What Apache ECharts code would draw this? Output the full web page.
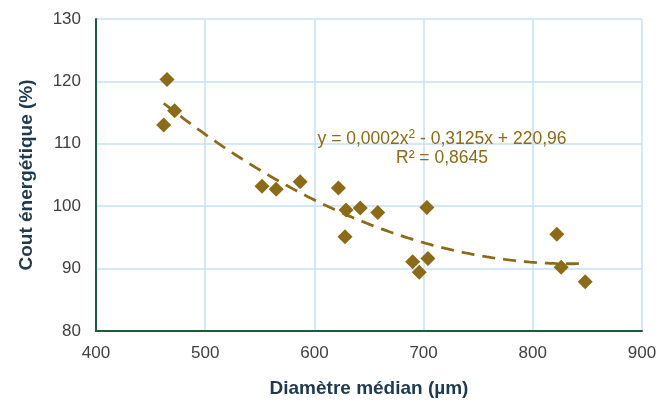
<!DOCTYPE html>
<html>
<head>
<meta charset="utf-8">
<script src="https://cdn.jsdelivr.net/npm/echarts@6/dist/echarts.min.js"></script>
<style>html,body{margin:0;padding:0;background:#fff;}#c{width:672px;height:402px;}</style>
</head>
<body>
<div id="c"></div>
<script>
// Data
const diametre = [462, 465, 472, 552, 565, 587, 622, 628, 629, 642, 658, 690, 696, 703, 704, 822, 826, 848];
const cout     = [113.0, 120.3, 115.3, 103.2, 102.7, 103.9, 102.9, 95.1, 99.4, 99.7, 99.0, 91.1, 89.4, 99.8, 91.6, 95.5, 90.2, 87.9];
const xTicks = [400, 500, 600, 700, 800, 900];
const yTicks = [80, 90, 100, 110, 120, 130];
const eqLine1 = ['y = 0,0002x', '2', ' - 0,3125x + 220,96'];
const eqLine2 = 'R² = 0,8645';

const points = diametre.map((d, i) => [d, cout[i]]);

// Polynomial (order 2) least-squares trendline, like the spreadsheet trendline
function polyFit2(xs, ys) {
  let S = [0,0,0,0,0], T = [0,0,0];
  for (let i = 0; i < xs.length; i++) {
    const x = xs[i], y = ys[i];
    let p = 1;
    for (let k = 0; k < 5; k++) { S[k] += p; if (k < 3) T[k] += p * y; p *= x; }
  }
  const A = [[S[0],S[1],S[2],T[0]],[S[1],S[2],S[3],T[1]],[S[2],S[3],S[4],T[2]]];
  for (let i = 0; i < 3; i++) {
    for (let j = i + 1; j < 3; j++) {
      const f = A[j][i] / A[i][i];
      for (let k = i; k < 4; k++) A[j][k] -= f * A[i][k];
    }
  }
  const c = [0,0,0];
  for (let i = 2; i >= 0; i--) {
    let s = A[i][3];
    for (let k = i + 1; k < 3; k++) s -= A[i][k] * c[k];
    c[i] = s / A[i][i];
  }
  return c;
}
const coef = polyFit2(diametre, cout);
const xMin = Math.min(...diametre), xMax = Math.max(...diametre);
const trend = [];
for (let x = xMin; x <= xMax; x += 2) trend.push([x, coef[0] + coef[1]*x + coef[2]*x*x]);
trend.push([xMax, coef[0] + coef[1]*xMax + coef[2]*xMax*xMax]);

const gold = '#8b6a18';
const font = 'Liberation Sans, Arial, sans-serif';
const chart = echarts.init(document.getElementById('c'));
chart.setOption({
  animation: false,
  textStyle: { fontFamily: font },
  grid: { left: 96, right: 30, top: 19, bottom: 71, containLabel: false, outerBoundsMode: 'none' },
  xAxis: {
    type: 'value', min: xTicks[0], max: xTicks[xTicks.length-1], interval: 100,
    name: 'Diamètre médian (µm)', nameLocation: 'middle', nameGap: 48,
    nameTextStyle: { fontSize: 19, fontWeight: 'bold', color: '#1f3a4e' },
    axisLine: { show: true, lineStyle: { color: '#1e5a3c', width: 2 } },
    axisTick: { show: false },
    axisLabel: { fontSize: 17, color: '#404040', margin: 14 },
    splitLine: { show: true, lineStyle: { color: '#c6e0f4', width: 1.5 } }
  },
  yAxis: {
    type: 'value', min: yTicks[0], max: yTicks[yTicks.length-1], interval: 10,
    name: 'Cout énergétique (%)', nameLocation: 'middle', nameGap: 60,
    nameTextStyle: { fontSize: 19, fontWeight: 'bold', color: '#1f3a4e' },
    axisLine: { show: true, lineStyle: { color: '#1e5a3c', width: 2 } },
    axisTick: { show: false },
    axisLabel: { fontSize: 17, color: '#404040', margin: 15 },
    splitLine: { show: true, lineStyle: { color: '#c6e0f4', width: 1.5 } }
  },
  series: [
    {
      type: 'line', data: trend, showSymbol: false, symbol: 'none', z: 2,
      lineStyle: { color: gold, width: 2.8, type: [13, 8] }
    },
    {
      type: 'scatter', data: points, symbol: 'diamond', symbolSize: 15, z: 3,
      itemStyle: { color: gold, opacity: 1 }
    }
  ],
  graphic: [{
    type: 'text', x: 442, y: 129, z: 10,
    style: {
      text: '{a|' + eqLine1[0] + '}{s|' + eqLine1[1] + '}{a|' + eqLine1[2] + '}\n{a|' + eqLine2 + '}',
      align: 'center',
      fill: gold,
      rich: {
        a: { fontSize: 17.5, lineHeight: 19, fill: gold, fontFamily: font, verticalAlign: 'bottom' },
        s: { fontSize: 12, lineHeight: 19, fill: gold, fontFamily: font, verticalAlign: 'top' }
      }
    }
  }]
});
</script>
</body>
</html>
